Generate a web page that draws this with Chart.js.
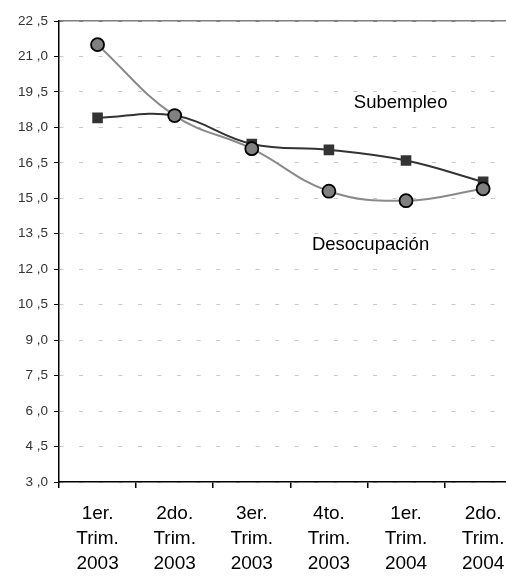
<!DOCTYPE html>
<html>
<head>
<meta charset="utf-8">
<script src="https://cdn.jsdelivr.net/npm/chart.js@4"></script>
<style>
  html, body { margin: 0; padding: 0; overflow: hidden; background: #fff; }
  canvas { display: block; }
</style>
</head>
<body>
<canvas id="c" width="530" height="576"></canvas>
<script>
// ---- data ----
const quarters = ["1er.", "2do.", "3er.", "4to.", "1er.", "2do."];
const years = ["2003", "2003", "2003", "2003", "2004", "2004"];
const subempleo = [18.4, 18.5, 17.3, 17.05, 16.6, 15.7];
const desocupacion = [21.5, 18.5, 17.1, 15.3, 14.9, 15.4];
const yTickValues = [3.0, 4.5, 6.0, 7.5, 9.0, 10.5, 12.0, 13.5, 15.0, 16.5, 18.0, 19.5, 21.0, 22.5];
const seriesNames = ["Subempleo", "Desocupación"];
// annotation anchors in data units: [category index, value]
const labelAnchors = [[3.93, 19.04], [3.54, 13.05]];

const categories = quarters.map((q, i) => [q, "Trim.", years[i]]);
const fmtY = v => v.toFixed(1).replace('.', ' ,');

const seriesLabels = {
  id: 'seriesLabels',
  afterDatasetsDraw(chart) {
    const {ctx, scales: {x, y}} = chart;
    ctx.save();
    ctx.font = '18.5px "Liberation Sans", Arial, sans-serif';
    ctx.fillStyle = '#000';
    ctx.textAlign = 'center';
    ctx.textBaseline = 'middle';
    seriesNames.forEach((name, i) => {
      const [ci, v] = labelAnchors[i];
      const px = x.getPixelForValue(0) + ci * (x.getPixelForValue(1) - x.getPixelForValue(0));
      ctx.fillText(name, px, y.getPixelForValue(v));
    });
    ctx.restore();
  }
};

new Chart(document.getElementById('c'), {
  type: 'line',
  data: {
    labels: categories,
    datasets: [
      {
        label: seriesNames[1],
        data: desocupacion,
        borderColor: '#8a8a8a',
        borderWidth: 2,
        pointStyle: 'circle',
        pointRadius: 6.5,
        pointBackgroundColor: '#808080',
        pointBorderColor: '#000',
        pointBorderWidth: 1.8,
        tension: 0.4,
        fill: false
      },
      {
        label: seriesNames[0],
        data: subempleo,
        borderColor: '#333333',
        borderWidth: 2,
        pointStyle: 'rect',
        pointRadius: 7.5,
        pointBackgroundColor: '#333333',
        pointBorderColor: '#333333',
        pointBorderWidth: 0,
        tension: 0.4,
        fill: false
      }
    ]
  },
  options: {
    responsive: false,
    animation: false,
    layout: { padding: { top: 21, left: 0, right: 0, bottom: 0 } },
    plugins: { legend: { display: false }, tooltip: { enabled: false } },
    scales: {
      x: {
        type: 'category',
        position: 'bottom',
        offset: true,
        grid: {
          offset: true,
          drawOnChartArea: false,
          drawTicks: true,
          tickLength: 6,
          tickColor: '#000',
          lineWidth: 1.5
        },
        border: { display: true, color: '#000', width: 1.5 },
        ticks: {
          color: '#000',
          font: { family: '"Liberation Sans", Arial, sans-serif', size: 19, lineHeight: 1.33 },
          padding: 13,
          maxRotation: 0,
          autoSkip: false
        },
        afterFit(scale) { scale.height = 94; }
      },
      x2: {
        type: 'category',
        position: 'top',
        labels: categories,
        offset: true,
        grid: { display: false, drawTicks: false },
        ticks: { display: false },
        border: { display: true, color: '#808080', width: 1.5 },
        afterFit(scale) { scale.height = 0; }
      },
      y: {
        type: 'linear',
        min: 3,
        max: 22.5,
        afterBuildTicks(scale) { scale.ticks = yTickValues.map(v => ({ value: v })); },
        grid: {
          color: ctx => (ctx.tick && ctx.tick.value === 22.5) ? '#808080' : '#c8c8c8',
          lineWidth: 1,
          drawTicks: true,
          tickLength: 5,
          tickColor: '#000',
          tickBorderDash: [1, 0]
        },
        border: { display: true, color: '#000', width: 1.5, dash: [4, 15.6] },
        ticks: {
          color: '#333',
          font: { family: '"Liberation Sans", Arial, sans-serif', size: 13.5 },
          padding: 6,
          callback: v => fmtY(v)
        },
        afterFit(scale) { scale.width = 59; }
      }
    }
  },
  plugins: [seriesLabels]
});
</script>
</body>
</html>
